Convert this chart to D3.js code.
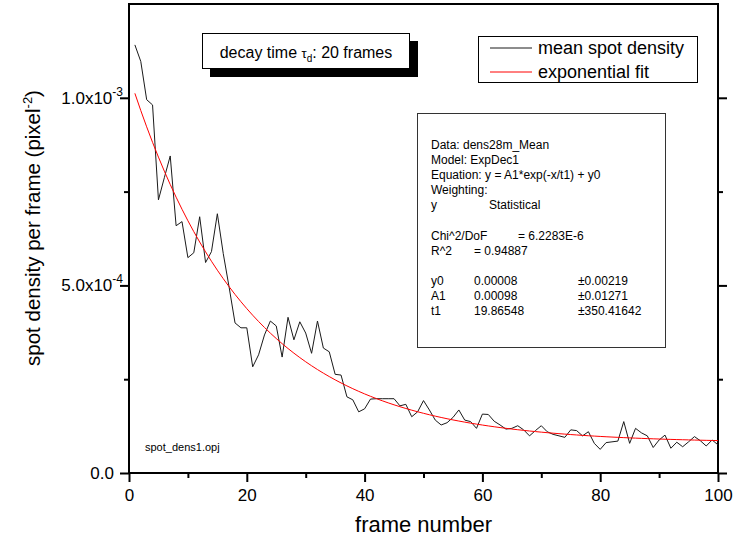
<!DOCTYPE html>
<html><head><meta charset="utf-8">
<script src="https://cdn.jsdelivr.net/npm/d3@7/dist/d3.min.js"></script>
<style>
body{margin:0;background:#fff}
svg{display:block;font-family:"Liberation Sans",Arial,sans-serif}
</style>
</head><body>
<svg id="chart" width="734" height="549"></svg>
<script>
// ---------- data ----------
const density = [
0.001141,0.001097,0.000995,0.000981,0.000728,0.000787,0.000845,0.000659,0.000670,0.000574,
0.000587,0.000683,0.000561,0.000590,0.000691,0.000585,0.000495,0.000400,0.000387,0.000387,
0.000283,0.000315,0.000368,0.000405,0.000392,0.000309,0.000415,0.000355,0.000403,0.000373,
0.000319,0.000405,0.000333,0.000323,0.000263,0.000261,0.000203,0.000195,0.000163,0.000171,
0.000197,0.000198,0.000198,0.000198,0.000198,0.000179,0.000183,0.000150,0.000163,0.000193,
0.000168,0.000141,0.000128,0.000134,0.000148,0.000168,0.000141,0.000137,0.000119,0.000157,
0.000156,0.000138,0.000128,0.000117,0.000119,0.000126,0.000115,0.000099,0.000113,0.000126,
0.000110,0.000103,0.000099,0.000095,0.000115,0.000113,0.000099,0.000110,0.000079,0.000063,
0.000081,0.000083,0.000085,0.000137,0.000079,0.000119,0.000107,0.000099,0.000068,0.000088,
0.000101,0.000066,0.000082,0.000070,0.000083,0.000097,0.000086,0.000072,0.000088,0.000075];
const frames = density.map((d,i)=>i+1);

// exponential fit parameters (ExpDec1: y = A1*exp(-x/t1) + y0), as printed in the chart
const fitY0 = 0.00008, fitA1 = 0.00098, fitT1 = 19.86548;

const xTicks = [0,20,40,60,80,100];
const xMinorTicks = [10,30,50,70,90];
const yTicks = [0, 0.0005, 0.001];
const yMinorTicks = [0.00025, 0.00075];
const yTickMantissa = ["0.0","5.0x10","1.0x10"];
const yTickExponent = ["","-4","-3"];

const legendLabels = ["mean spot density","exponential fit"];
const fitReport = [
  ["Data: dens28m_Mean"],
  ["Model: ExpDec1"],
  ["Equation: y = A1*exp(-x/t1) + y0"],
  ["Weighting:"],
  ["y","Statistical"],
  [],
  ["Chi^2/DoF","= 6.2283E-6"],
  ["R^2","=  0.94887"],
  [],
  ["y0","0.00008","\u00b10.00219"],
  ["A1","0.00098","\u00b10.01271"],
  ["t1","19.86548","\u00b1350.41642"]
];

// ---------- layout ----------
const L=129, R=718, T=4, B=473;
const svg = d3.select("#chart");
const x = d3.scaleLinear().domain([0,100]).range([L,R]);
const y = d3.scaleLinear().domain([0,0.00125]).range([B,T]);

// frame
svg.append("rect").attr("x",L).attr("y",T).attr("width",R-L).attr("height",B-T)
  .attr("fill","none").attr("stroke","#000").attr("stroke-width",2);

function styleAxis(g){
  g.select(".domain").remove();
  g.selectAll(".tick line").attr("stroke","#000").attr("stroke-width",2);
}
// bottom axis
svg.append("g").attr("transform",`translate(0,${B})`)
  .call(d3.axisBottom(x).tickValues(xTicks).tickSize(9).tickSizeOuter(0).tickFormat(d3.format("d")))
  .call(styleAxis)
  .call(g=>g.selectAll(".tick text").attr("font-size",17).attr("font-family","Liberation Sans, Arial, sans-serif").attr("fill","#000").attr("dy",null).attr("y",28));
svg.append("g").attr("transform",`translate(0,${B})`)
  .call(d3.axisBottom(x).tickValues(xMinorTicks).tickSize(5).tickFormat(""))
  .call(styleAxis);
// left axis
svg.append("g").attr("transform",`translate(${L},0)`)
  .call(d3.axisLeft(y).tickValues(yTicks).tickSize(9).tickFormat(""))
  .call(styleAxis);
svg.append("g").attr("transform",`translate(${L},0)`)
  .call(d3.axisLeft(y).tickValues(yMinorTicks).tickSize(5).tickFormat(""))
  .call(styleAxis);
// right axis ticks
svg.append("g").attr("transform",`translate(${R},0)`)
  .call(d3.axisRight(y).tickValues(yTicks).tickSize(9).tickFormat(""))
  .call(styleAxis);
svg.append("g").attr("transform",`translate(${R},0)`)
  .call(d3.axisRight(y).tickValues(yMinorTicks).tickSize(5).tickFormat(""))
  .call(styleAxis);

// y tick labels with superscripts
yTicks.forEach((v,i)=>{
  const t = svg.append("text").attr("x", yTickExponent[i] ? 123 : 114).attr("y", y(v)+6)
    .attr("text-anchor","end").attr("font-size",17).attr("fill","#000");
  t.append("tspan").text(yTickMantissa[i]);
  if (yTickExponent[i]) t.append("tspan").attr("font-size",12).attr("dy",-8).text(yTickExponent[i]);
});

// axis titles
svg.append("text").attr("x",(L+R)/2).attr("y",532).attr("text-anchor","middle")
  .attr("font-size",22).attr("fill","#000").text("frame number");
const yt = svg.append("text").attr("transform","translate(40,228) rotate(-90)")
  .attr("text-anchor","middle").attr("font-size",20.5).attr("fill","#000");
yt.append("tspan").text("spot density per frame (pixel");
yt.append("tspan").attr("font-size",13).attr("dy",-8).text("-2");
yt.append("tspan").attr("dy",8).text(")");

// data line
const line = d3.line().x((d,i)=>x(frames[i])).y(d=>y(d));
svg.append("path").datum(density).attr("d",line).attr("fill","none")
  .attr("stroke","#1a1a1a").attr("stroke-width",1);
// fit line
const fitVals = frames.map(f=>fitA1*Math.exp(-f/fitT1)+fitY0);
svg.append("path").datum(fitVals).attr("d",line).attr("fill","none")
  .attr("stroke","#ff0000").attr("stroke-width",1);

// decay time box with shadow
svg.append("rect").attr("x",210).attr("y",41).attr("width",208).attr("height",36).attr("fill","#000");
svg.append("rect").attr("x",202.5).attr("y",33.5).attr("width",207).attr("height",35).attr("fill","#fff").attr("stroke","#000").attr("stroke-width",1);
const dt = svg.append("text").attr("x",306).attr("y",58).attr("text-anchor","middle").attr("font-size",16).attr("fill","#000");
dt.append("tspan").text("decay time ");
dt.append("tspan").attr("font-size",13).text("\u03c4");
dt.append("tspan").attr("font-size",10).attr("dy",4).text("d");
dt.append("tspan").attr("dy",-4).text(": 20 frames");

// legend
svg.append("rect").attr("x",478.5).attr("y",36.5).attr("width",219).attr("height",46).attr("fill","#fff").attr("stroke","#000").attr("stroke-width",1);
const legColors = ["#1a1a1a","#ff0000"];
legendLabels.forEach((lab,i)=>{
  const yy = 48 + i*24;
  svg.append("line").attr("x1",490).attr("x2",532).attr("y1",yy).attr("y2",yy).attr("stroke",legColors[i]).attr("stroke-width",1);
  svg.append("text").attr("x",538).attr("y",yy+6).attr("font-size",18).attr("fill","#000").text(lab);
});

// fit report box
svg.append("rect").attr("x",417.5).attr("y",113.5).attr("width",248).attr("height",234).attr("fill","#fff").attr("stroke","#333").attr("stroke-width",1);
const colX = [431, 474, 578];
fitReport.forEach((row,i)=>{
  const yy = 149 + i*15.1;
  row.forEach((s,j)=>{
    let cx = colX[j];
    if (i===4 && j===1) cx = 489;
    if (i===6 && j===1) cx = 518;
    svg.append("text").attr("x",cx).attr("y",yy).attr("font-size",12).attr("fill","#000").text(s);
  });
});

// file name
svg.append("text").attr("x",145).attr("y",451).attr("font-size",11).attr("fill","#000").text("spot_dens1.opj");
</script>
</body></html>
